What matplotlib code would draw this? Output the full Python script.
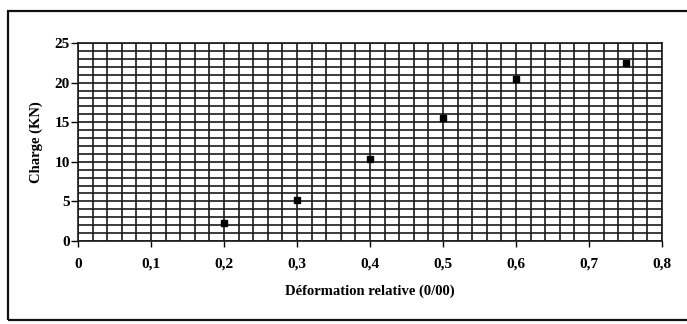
import matplotlib.pyplot as plt
from matplotlib.ticker import MultipleLocator, FuncFormatter
from matplotlib.patches import Rectangle

# measured points
deformation = [0.2, 0.3, 0.4, 0.5, 0.6, 0.75]
charge = [2.3, 5.2, 10.4, 15.5, 20.5, 22.5]

x_label = "Déformation relative (0/00)"
y_label = "Charge (KN)"

plt.rcParams['font.family'] = ['Liberation Serif', 'DejaVu Serif']
plt.rcParams['font.weight'] = 'bold'

fig = plt.figure(figsize=(6.87, 3.24), dpi=100)
fig.patch.set_facecolor('white')

# outer frame around the whole chart
frame = Rectangle((8 / 687, 1 - 320 / 324), 1.0, (320 - 11) / 324,
                  transform=fig.transFigure, fill=False, lw=1.6,
                  edgecolor='#111111', zorder=0)
fig.add_artist(frame)

ax = fig.add_axes([78 / 687, 1 - 241 / 324, (662 - 78) / 687, (241 - 43) / 324])

ax.set_xlim(0, 0.8)
ax.set_ylim(0, 25)

ax.xaxis.set_major_locator(MultipleLocator(0.1))
ax.xaxis.set_minor_locator(MultipleLocator(0.02))
ax.yaxis.set_major_locator(MultipleLocator(5))
ax.yaxis.set_minor_locator(MultipleLocator(1))

ax.grid(which='both', color='#1a1a1a', lw=1.2)
ax.set_axisbelow(True)

for s in ax.spines.values():
    s.set_color('#1a1a1a')
    s.set_linewidth(1.2)

ax.tick_params(axis='x', which='major', direction='out', length=4, width=1,
               pad=8, labelsize=11)
ax.tick_params(axis='y', which='major', direction='out', length=5, width=1,
               pad=1, labelsize=11)
ax.tick_params(which='minor', length=0)

ax.xaxis.set_major_formatter(FuncFormatter(
    lambda v, p: '0' if abs(v) < 1e-9 else ('%.1f' % v).replace('.', ',')))
ax.yaxis.set_major_formatter(FuncFormatter(lambda v, p: '%d' % v))

for lab in ax.get_xticklabels() + ax.get_yticklabels():
    lab.set_fontweight('bold')

ax.plot(deformation, charge, 's', color='black', markersize=4.5, zorder=5,
        clip_on=False)

ax.set_xlabel(x_label, fontsize=10.5, fontweight='bold', labelpad=10)
ax.set_ylabel(y_label, fontsize=10.5, fontweight='bold', labelpad=8)

fig.savefig('out.png', dpi=100)
